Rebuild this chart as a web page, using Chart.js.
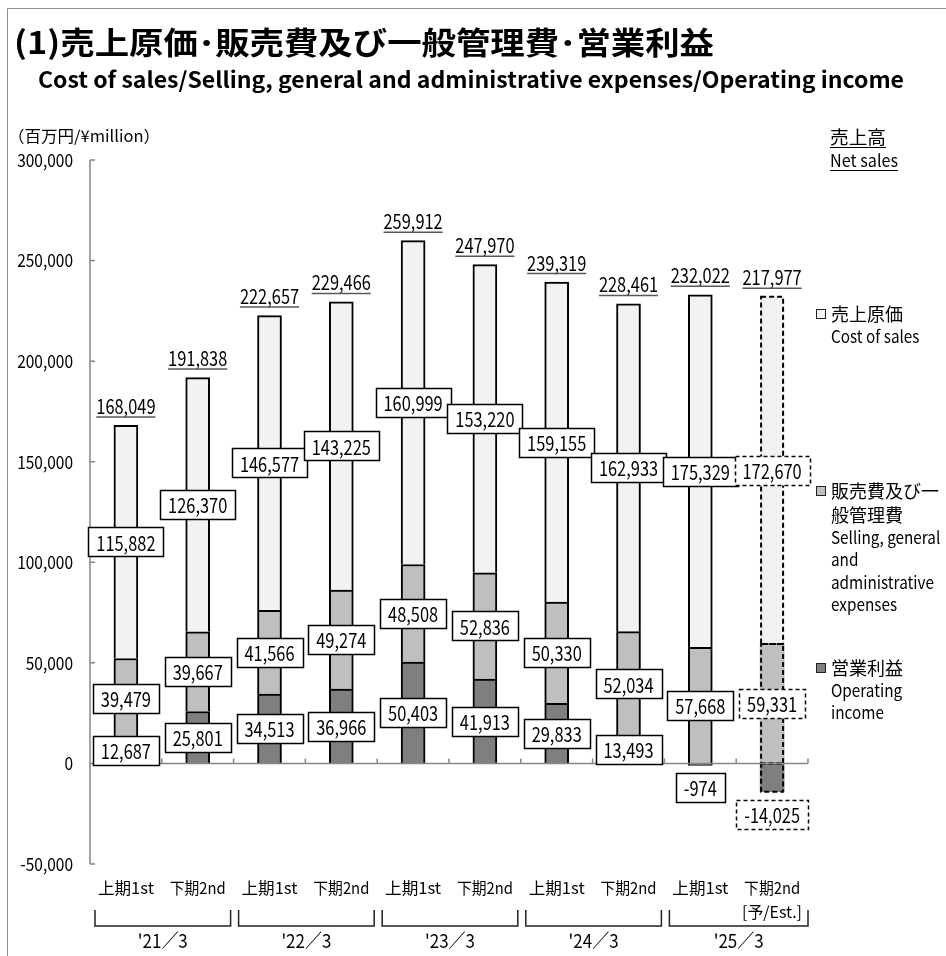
<!DOCTYPE html>
<html>
<head>
<meta charset="utf-8">
<script src="https://cdn.jsdelivr.net/npm/chart.js@4.4.1/dist/chart.umd.min.js"></script>
<style>
  html, body { margin: 0; padding: 0; background: #fff; }
  canvas { display: block; }
</style>
</head>
<body>
<canvas id="chart" width="946" height="956"></canvas>
<script>
// half-year labels and fiscal years
const halves = ['上期1st', '下期2nd', '上期1st', '下期2nd', '上期1st', '下期2nd', '上期1st', '下期2nd', '上期1st', '下期2nd'];
const fiscalYears = ["'21／3", "'22／3", "'23／3", "'24／3", "'25／3"];

// ¥ million
const netSales = [168049, 191838, 222657, 229466, 259912, 247970, 239319, 228461, 232022, 217977];
const costOfSales = [115882, 126370, 146577, 143225, 160999, 153220, 159155, 162933, 175329, 172670];
const sgaExpenses = [39479, 39667, 41566, 49274, 48508, 52836, 50330, 52034, 57668, 59331];
const operatingIncome = [12687, 25801, 34513, 36966, 50403, 41913, 29833, 13493, -974, -14025];

const yMin = -50000, yMax = 300000, yStep = 50000;
const estimateIndex = 9; // last half is a forecast, drawn dashed

const JP = '"Noto Sans CJK JP", "Noto Sans", sans-serif';
const NUM_FONT = '20px ' + JP;
const NARROW = 0.82; // digits in the original are narrower than Noto's
const fmt = v => v.toLocaleString('en-US');

// fit: { w: target width } or { k: horizontal squeeze }
function txt(ctx, s, x, y, font, align, fit) {
  ctx.save();
  ctx.font = font;
  ctx.textAlign = align || 'left';
  ctx.textBaseline = 'middle';
  ctx.fillStyle = '#000';
  let k = 1;
  if (fit && fit.w) k = fit.w / ctx.measureText(s).width;
  if (fit && fit.k) k = fit.k;
  ctx.translate(x, y);
  ctx.scale(k, 1);
  ctx.fillText(s, 0, 0);
  ctx.restore();
}

function labelBox(ctx, s, cx, cy, dashed) {
  ctx.save();
  ctx.font = NUM_FONT;
  const w = Math.round(ctx.measureText(s).width * NARROW) + 16, h = 29;
  const x = Math.round(cx - w / 2) + 0.5, y = Math.round(cy - h / 2) + 0.5;
  ctx.fillStyle = '#fff';
  ctx.fillRect(x, y, w, h);
  ctx.strokeStyle = '#000';
  ctx.lineWidth = 1.5;
  if (dashed) ctx.setLineDash([4, 3]);
  ctx.strokeRect(x, y, w, h);
  ctx.restore();
  txt(ctx, s, cx, cy + 1, NUM_FONT, 'center', { k: NARROW });
}

const decor = {
  id: 'decor',
  beforeDraw(chart) {
    const ctx = chart.ctx;
    ctx.save();
    ctx.fillStyle = '#fff';
    ctx.fillRect(0, 0, chart.width, chart.height);
    // frame
    ctx.strokeStyle = '#8c8c8c';
    ctx.lineWidth = 1;
    ctx.beginPath();
    ctx.moveTo(7.5, 956); ctx.lineTo(7.5, 8.5); ctx.lineTo(946, 8.5);
    ctx.stroke();
    ctx.restore();

    txt(ctx, '(1)売上原価･販売費及び一般管理費･営業利益', 14, 42, 'bold 31px ' + JP, 'left', { w: 700 });
    txt(ctx, 'Cost of sales/Selling, general and administrative expenses/Operating income', 38, 80, 'bold 22px ' + JP, 'left', { w: 866 });
    txt(ctx, '（百万円/¥million）', 8, 136, '16px ' + JP, 'left', { w: 152 });

    // legend on the right
    ctx.save();
    ctx.strokeStyle = '#000';
    ctx.lineWidth = 1;
    txt(ctx, '売上高', 830, 137, '18px ' + JP, 'left', { w: 56 });
    txt(ctx, 'Net sales', 830, 161, '17px ' + JP, 'left', { w: 68 });
    ctx.beginPath();
    ctx.moveTo(830, 147.5); ctx.lineTo(886, 147.5);
    ctx.moveTo(830, 170.5); ctx.lineTo(898, 170.5);
    ctx.stroke();
    const items = [
      { color: '#f2f2f2', y: 314, lines: [['売上原価', 18], ['Cost of sales', 17]] },
      { color: '#bfbfbf', y: 491, lines: [['販売費及び一', 18], ['般管理費', 18], ['Selling, general', 17], ['and', 17], ['administrative', 17], ['expenses', 17]] },
      { color: '#7f7f7f', y: 668, lines: [['営業利益', 18], ['Operating', 17], ['income', 17]] }
    ];
    items.forEach(it => {
      ctx.fillStyle = it.color;
      ctx.fillRect(816.5, it.y - 4.5, 9, 9);
      ctx.strokeStyle = '#222';
      ctx.strokeRect(816.5, it.y - 4.5, 9, 9);
      let y = it.y;
      it.lines.forEach(([s, size], i) => {
        if (i > 0) y += size === 18 ? 24 : 22.5;
        txt(ctx, s, 831, y, size + 'px ' + JP, 'left', size === 18 ? null : { k: 0.9 });
      });
    });
    ctx.restore();
  },
  afterDatasetsDraw(chart) {
    const ctx = chart.ctx;
    const xs = chart.scales.x, ys = chart.scales.y;
    const area = chart.chartArea;
    const y0 = ys.getPixelForValue(0);
    const metas = [0, 1, 2].map(i => chart.getDatasetMeta(i));

    // dashed outline for the estimate bar
    ctx.save();
    ctx.strokeStyle = '#000';
    ctx.lineWidth = 2;
    ctx.setLineDash([5, 3]);
    metas.forEach(m => {
      const el = m.data[estimateIndex];
      const top = Math.min(el.y, el.base), bot = Math.max(el.y, el.base);
      ctx.strokeRect(el.x - el.width / 2 + 1, top, el.width - 2, bot - top);
    });
    ctx.restore();

    // axes
    ctx.save();
    ctx.strokeStyle = '#868686';
    ctx.lineWidth = 1.5;
    ctx.beginPath();
    ctx.moveTo(area.left, area.top); ctx.lineTo(area.left, area.bottom);
    for (let v = yMin; v <= yMax; v += yStep) {
      const p = ys.getPixelForValue(v);
      ctx.moveTo(area.left, p); ctx.lineTo(area.left + 5, p);
    }
    ctx.moveTo(area.left, y0); ctx.lineTo(area.right, y0);
    const bounds = [];
    for (let i = 0; i <= halves.length; i++) {
      const b = i === 0 ? area.left : i === halves.length ? area.right
        : (xs.getPixelForValue(i - 1) + xs.getPixelForValue(i)) / 2;
      bounds.push(b);
      if (i > 0) { ctx.moveTo(b, y0); ctx.lineTo(b, y0 - 5); }
    }
    ctx.stroke();
    ctx.restore();

    for (let v = yMin; v <= yMax; v += yStep) {
      txt(ctx, fmt(v), area.left - 17, ys.getPixelForValue(v), '18px ' + JP, 'right', { k: 0.86 });
    }

    // category labels, brackets, fiscal years
    halves.forEach((h, i) => {
      txt(ctx, h, xs.getPixelForValue(i), 888, '16px ' + JP, 'center', { w: 56 });
    });
    txt(ctx, '[予/Est.]', 802, 912, '16px ' + JP, 'right', { w: 60 });
    ctx.save();
    ctx.strokeStyle = '#222';
    ctx.lineWidth = 1.5;
    fiscalYears.forEach((fy, g) => {
      const l = bounds[2 * g] + 5, r = bounds[2 * g + 2] - (g === fiscalYears.length - 1 ? 0 : 3);
      ctx.beginPath();
      ctx.moveTo(l, 910); ctx.lineTo(l, 926); ctx.lineTo(r, 926); ctx.lineTo(r, 910);
      ctx.stroke();
      txt(ctx, fy, (l + r) / 2, 941, '19px ' + JP, 'center', { w: 50 });
    });
    ctx.restore();

    // value boxes
    halves.forEach((h, i) => {
      const dashed = i === estimateIndex;
      [operatingIncome, sgaExpenses, costOfSales].forEach((arr, d) => {
        const el = metas[d].data[i];
        let cy = (el.y + el.base) / 2;
        if (arr[i] < 0) cy = Math.max(el.y, el.base) + 8 + 14.5;
        labelBox(ctx, fmt(arr[i]), el.x, cy, dashed);
      });
      // net sales above the stack
      const el = metas[2].data[i];
      const s = fmt(netSales[i]);
      txt(ctx, s, el.x, el.y - 19, NUM_FONT, 'center', { k: NARROW });
      ctx.save();
      ctx.font = NUM_FONT;
      const w = ctx.measureText(s).width * NARROW;
      ctx.strokeStyle = '#595959';
      ctx.lineWidth = 1.5;
      ctx.beginPath();
      ctx.moveTo(el.x - w / 2, el.y - 8.5);
      ctx.lineTo(el.x + w / 2, el.y - 8.5);
      ctx.stroke();
      ctx.restore();
    });
  }
};

const solidBorder = halves.map((h, i) => i === estimateIndex ? 0 : 2);

new Chart(document.getElementById('chart'), {
  type: 'bar',
  data: {
    labels: halves,
    datasets: [
      { label: '営業利益', data: operatingIncome, backgroundColor: '#7f7f7f' },
      { label: '販売費及び一般管理費', data: sgaExpenses, backgroundColor: '#bfbfbf' },
      { label: '売上原価', data: costOfSales, backgroundColor: '#f2f2f2' }
    ].map(ds => Object.assign(ds, { borderColor: '#000', borderWidth: solidBorder, barThickness: 24 }))
  },
  options: {
    responsive: false,
    animation: false,
    devicePixelRatio: 1,
    layout: { padding: { left: 90, right: 138, top: 160, bottom: 92 } },
    plugins: { legend: { display: false }, tooltip: { enabled: false } },
    scales: {
      x: {
        stacked: true,
        ticks: { display: false },
        grid: { display: false },
        border: { display: false },
        afterFit: s => { s.height = 0; }
      },
      y: {
        stacked: true,
        min: yMin, max: yMax,
        ticks: { display: false, stepSize: yStep },
        grid: { display: false },
        border: { display: false },
        afterFit: s => { s.width = 0; }
      }
    }
  },
  plugins: [decor]
});
</script>
</body>
</html>
